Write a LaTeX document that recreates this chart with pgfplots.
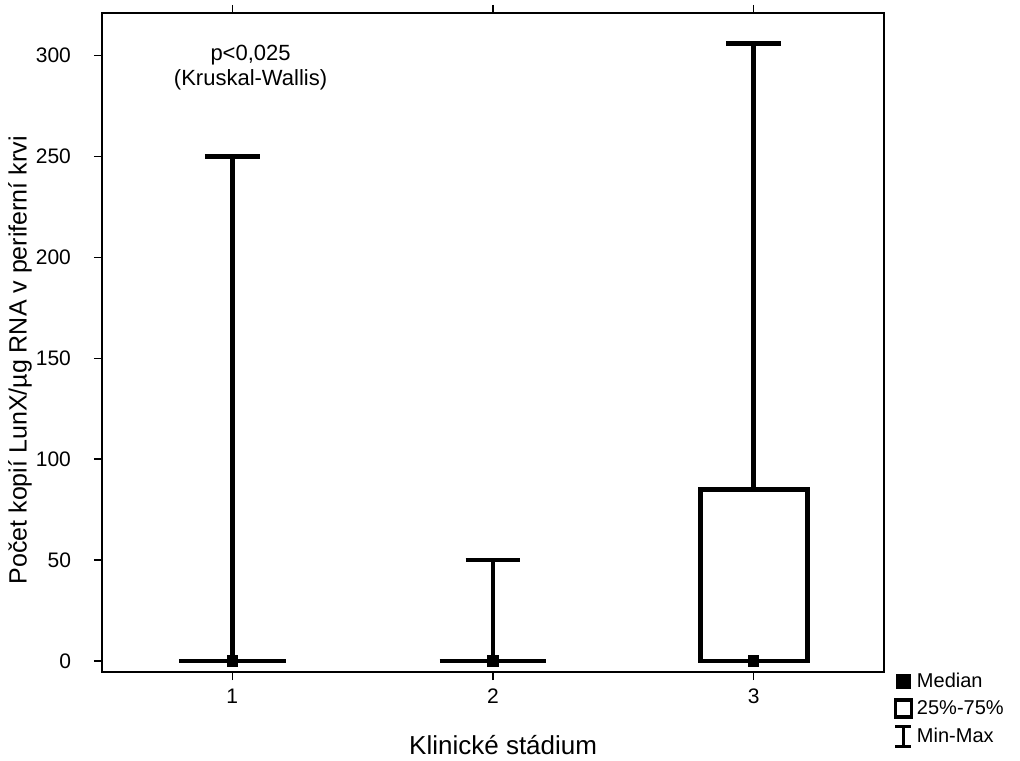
\documentclass[border=0pt]{standalone}
\usepackage{pgfplots}
\pgfplotsset{compat=1.18}
\usepackage{fontspec}
\setmainfont{Liberation Sans}
\begin{document}
\begin{tikzpicture}
\useasboundingbox (0,0) rectangle (510pt,380pt);
\begin{axis}[
  at={(51pt,44pt)}, anchor=south west,
  scale only axis, width=391pt, height=329.5pt,
  xmin=0.5, xmax=3.5, ymin=-5.5, ymax=321,
  xtick={1,2,3}, ytick={0,50,100,150,200,250,300},
  /pgf/number format/assume math mode=true,
  tick align=outside, xtick pos=both, ytick pos=left,
  major tick length=4pt,
  tick style={black, line width=0.6pt},
  axis line style={line width=0.8pt},
  ticklabel style={font=\fontsize{10.5}{12}\selectfont},
  yticklabel style={xshift=-8pt},
  xticklabel style={yshift=-1pt},
  xlabel={Klinické stádium},
  ylabel={Počet kopií LunX/µg RNA v periferní krvi},
  xlabel style={font=\fontsize{13}{15}\selectfont, at={(axis description cs:0.513,-0.111)}, anchor=center},
  ylabel style={font=\fontsize{12.5}{14}\selectfont, at={(axis description cs:-0.105,0.473)}, anchor=center},
  legend style={draw=none, fill=none, at={(rel axis cs:1.012,0.005)}, anchor=north west,
    font=\fontsize{10}{11.5}\selectfont, inner sep=0pt, row sep=1pt,
    /tikz/every even column/.append style={column sep=1pt}},
  legend cell align=left,
  every axis plot/.append style={black, solid, line width=2.4pt},
]
\addlegendimage{legend image code/.code={\fill[black] (1pt,-2.5pt) rectangle (6pt,2.5pt);}}
\addlegendimage{legend image code/.code={\draw[black,line width=1.6pt] (-0.5pt,-4pt) rectangle (7.5pt,4.5pt);}}
\addlegendimage{legend image code/.code={\draw[black,line width=1.6pt] (-0.5pt,5pt)--(7.5pt,5pt) (3.5pt,5pt)--(3.5pt,-5pt) (-0.5pt,-5pt)--(7.5pt,-5pt);}}
% group 1
\addplot[forget plot] coordinates {(0.795,0) (1.205,0)};
\addplot[forget plot] coordinates {(1,0) (1,250)};
\addplot[forget plot] coordinates {(0.895,250) (1.105,250)};
% group 2
\addplot[forget plot] coordinates {(1.795,0) (2.205,0)};
\addplot[forget plot] coordinates {(2,0) (2,50)};
\addplot[forget plot] coordinates {(1.895,50) (2.105,50)};
% group 3
\addplot[forget plot] coordinates {(2.795,0) (3.205,0) (3.205,85) (2.795,85) (2.795,0)} -- cycle;
\addplot[forget plot] coordinates {(3,85) (3,306)};
\addplot[forget plot] coordinates {(2.895,306) (3.105,306)};
% medians
\addplot[forget plot, only marks, mark=square*, mark size=2.6pt, line width=0.4pt] coordinates {(1,0) (2,0) (3,0)};
\node[align=center, font=\fontsize{11}{12.5}\selectfont] at (axis cs:1.07,294) {p<0,025\\(Kruskal-Wallis)};
\legend{Median, 25\%-75\%, Min-Max}
\end{axis}
\end{tikzpicture}
\end{document}
